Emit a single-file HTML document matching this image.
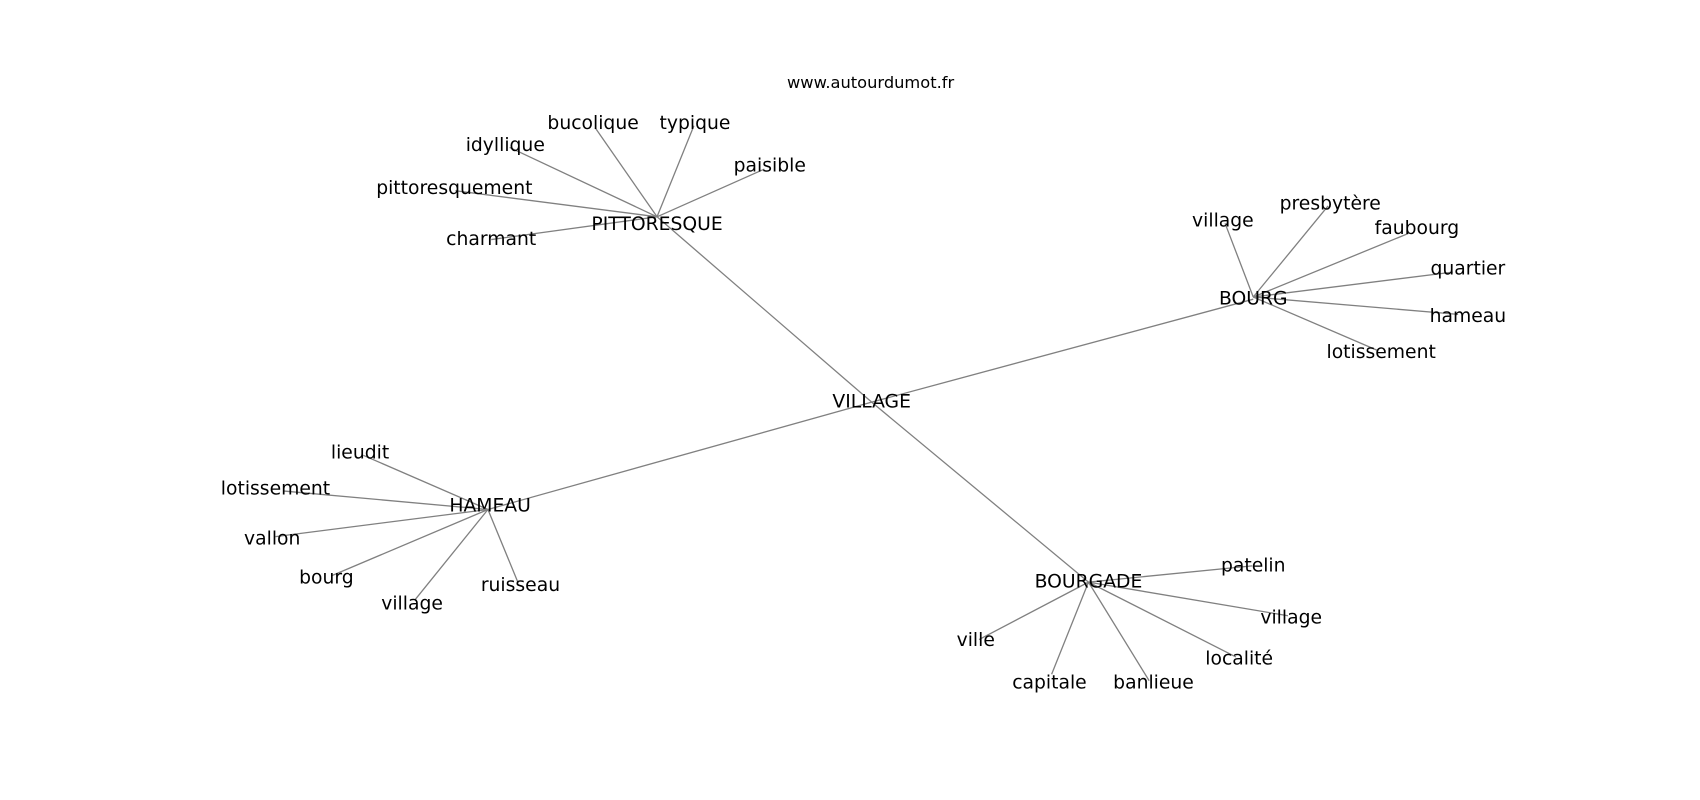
<!DOCTYPE html>
<html><head><meta charset="utf-8"><style>html,body{margin:0;padding:0;background:#fff}svg{display:block}</style></head>
<body>
<svg width="1700" height="800" viewBox="0 0 1568 738" xmlns="http://www.w3.org/2000/svg">
<g stroke="#808080" stroke-width="1.2" fill="none">
<line x1="804" y1="371" x2="606" y2="200"/>
<line x1="804" y1="371" x2="1156" y2="276"/>
<line x1="804" y1="371" x2="450" y2="470"/>
<line x1="804" y1="371" x2="1004" y2="537"/>
<line x1="606" y1="200" x2="549" y2="118"/>
<line x1="606" y1="200" x2="640" y2="116"/>
<line x1="606" y1="200" x2="470" y2="136"/>
<line x1="606" y1="200" x2="705" y2="156"/>
<line x1="606" y1="200" x2="420" y2="176"/>
<line x1="606" y1="200" x2="453" y2="221"/>
<line x1="1156" y1="274" x2="1130" y2="206"/>
<line x1="1156" y1="274" x2="1225" y2="190"/>
<line x1="1156" y1="274" x2="1300" y2="215"/>
<line x1="1156" y1="274" x2="1340" y2="251"/>
<line x1="1156" y1="274" x2="1345" y2="290"/>
<line x1="1156" y1="274" x2="1270" y2="323"/>
<line x1="450" y1="470" x2="335" y2="420"/>
<line x1="450" y1="470" x2="262" y2="453"/>
<line x1="450" y1="470" x2="254" y2="495"/>
<line x1="450" y1="470" x2="306" y2="531"/>
<line x1="450" y1="470" x2="383" y2="553"/>
<line x1="450" y1="470" x2="478" y2="538"/>
<line x1="1004" y1="537" x2="1155" y2="522"/>
<line x1="1004" y1="537" x2="1188" y2="568"/>
<line x1="1004" y1="537" x2="1140" y2="606"/>
<line x1="1004" y1="537" x2="1060" y2="628"/>
<line x1="1004" y1="537" x2="970" y2="622"/>
<line x1="1004" y1="537" x2="903" y2="590"/>
</g>
<g font-family="'DejaVu Sans', 'Liberation Sans', sans-serif" font-size="17.3" fill="#000" text-anchor="middle" dominant-baseline="central">
<text x="803" y="76" font-size="15">www.autourdumot.fr</text>
<text x="804" y="371">VILLAGE</text>
<text x="606" y="207">PITTORESQUE</text>
<text x="1156" y="276">BOURG</text>
<text x="452" y="467">HAMEAU</text>
<text x="1004" y="537">BOURGADE</text>
<text x="547" y="114">bucolique</text>
<text x="641" y="114">typique</text>
<text x="466" y="134">idyllique</text>
<text x="710" y="153">paisible</text>
<text x="419" y="174">pittoresquement</text>
<text x="453" y="221">charmant</text>
<text x="1128" y="204">village</text>
<text x="1227" y="188">presbytère</text>
<text x="1307" y="211">faubourg</text>
<text x="1354" y="248">quartier</text>
<text x="1354" y="292">hameau</text>
<text x="1274" y="325">lotissement</text>
<text x="332" y="418">lieudit</text>
<text x="254" y="451">lotissement</text>
<text x="251" y="497">vallon</text>
<text x="301" y="533">bourg</text>
<text x="380" y="557">village</text>
<text x="480" y="540">ruisseau</text>
<text x="1156" y="522">patelin</text>
<text x="1191" y="570">village</text>
<text x="1143" y="608">localité</text>
<text x="1064" y="630">banlieue</text>
<text x="968" y="630">capitale</text>
<text x="900" y="591">ville</text>
</g>
</svg>
</body></html>
